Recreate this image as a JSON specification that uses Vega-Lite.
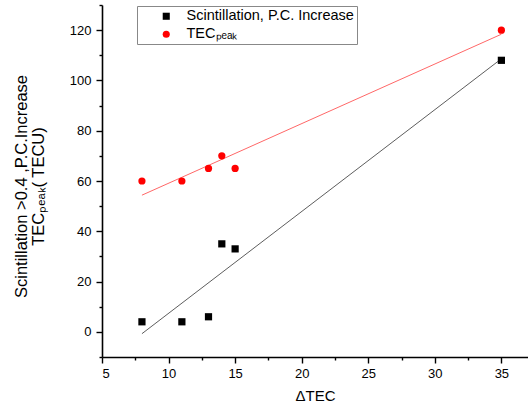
{
  "$schema": "https://vega.github.io/schema/vega-lite/v6.json",
  "width": 426,
  "height": 352,
  "autosize": {"type": "none"},
  "padding": {"left": 102, "top": 5, "right": 0, "bottom": 52},
  "background": "white",
  "config": {
    "view": {"stroke": null},
    "font": "Liberation Sans",
    "axis": {
      "domainColor": "black",
      "domainWidth": 1.6,
      "tickColor": "black",
      "tickWidth": 1.4,
      "grid": false,
      "labelOverlap": false,
      "labelColor": "black",
      "labelFont": "Liberation Sans",
      "labelFontSize": 13,
      "titleColor": "black",
      "titleFont": "Liberation Sans",
      "titleFontSize": 15,
      "titleFontWeight": "normal"
    },
    "legend": {
      "labelFont": "Liberation Sans",
      "labelFontSize": 14.5,
      "labelColor": "black",
      "labelLimit": 400
    }
  },
  "data": {
    "values": [
      {"series": "Scintillation, P.C. Increase", "dtec": 8, "value": 4},
      {"series": "Scintillation, P.C. Increase", "dtec": 11, "value": 4},
      {"series": "Scintillation, P.C. Increase", "dtec": 13, "value": 6},
      {"series": "Scintillation, P.C. Increase", "dtec": 14, "value": 35},
      {"series": "Scintillation, P.C. Increase", "dtec": 15, "value": 33},
      {"series": "Scintillation, P.C. Increase", "dtec": 35, "value": 108},
      {"series": "TECₚₑₐₖ", "dtec": 8, "value": 60},
      {"series": "TECₚₑₐₖ", "dtec": 11, "value": 60},
      {"series": "TECₚₑₐₖ", "dtec": 13, "value": 65},
      {"series": "TECₚₑₐₖ", "dtec": 14, "value": 70},
      {"series": "TECₚₑₐₖ", "dtec": 15, "value": 65},
      {"series": "TECₚₑₐₖ", "dtec": 35, "value": 120}
    ]
  },
  "encoding": {
    "x": {
      "field": "dtec",
      "type": "quantitative",
      "scale": {"domain": [5, 37], "nice": false, "zero": false},
      "axis": {
        "title": "ΔTEC",
        "values": [5, 7.5, 10, 12.5, 15, 17.5, 20, 22.5, 25, 27.5, 30, 32.5, 35],
        "labelExpr": "datum.value % 5 === 0 ? datum.label : ''",
        "tickSize": {"condition": {"test": "datum.value % 5 === 0", "value": 6}, "value": 3},
        "labelPadding": 4,
        "titlePadding": 8
      }
    },
    "y": {
      "field": "value",
      "type": "quantitative",
      "scale": {"domain": [-10, 130], "nice": false, "zero": false},
      "axis": {
        "title": ["Scintillation >0.4 ,P.C.Increase", "TECₚₑₐₖ( TECU)"],
        "titleFontSize": 16.5,
        "titleLineHeight": 16.5,
        "titleY": 181,
        "values": [-10, 0, 10, 20, 30, 40, 50, 60, 70, 80, 90, 100, 110, 120, 130],
        "labelExpr": "abs(datum.value) % 20 == 0 ? format(datum.value, 'd') : ''",
        "tickSize": {"condition": {"test": "abs(datum.value) % 20 == 0", "value": 6}, "value": 3},
        "labelPadding": 5,
        "titlePadding": 23
      }
    }
  },
  "layer": [
    {
      "transform": [
        {"filter": "datum.series === 'Scintillation, P.C. Increase'"},
        {"regression": "value", "on": "dtec"}
      ],
      "mark": {"type": "line", "color": "#333333", "strokeWidth": 0.8}
    },
    {
      "transform": [
        {"filter": "datum.series === 'TECₚₑₐₖ'"},
        {"regression": "value", "on": "dtec"}
      ],
      "mark": {"type": "line", "color": "#ff4040", "strokeWidth": 0.8}
    },
    {
      "mark": {"type": "point", "filled": true, "opacity": 1, "size": 52},
      "encoding": {
        "color": {
          "field": "series",
          "type": "nominal",
          "scale": {"domain": ["Scintillation, P.C. Increase", "TECₚₑₐₖ"], "range": ["black", "#ff0000"]},
          "legend": {
            "title": null,
            "orient": "none",
            "legendX": 35,
            "legendY": 1,
            "padding": 3,
            "strokeColor": "#888888",
            "symbolOffset": 19,
            "labelOffset": 13,
            "rowPadding": 3,
            "symbolSize": 50
          }
        },
        "shape": {
          "field": "series",
          "type": "nominal",
          "scale": {"domain": ["Scintillation, P.C. Increase", "TECₚₑₐₖ"], "range": ["square", "circle"]}
        }
      }
    }
  ]
}
